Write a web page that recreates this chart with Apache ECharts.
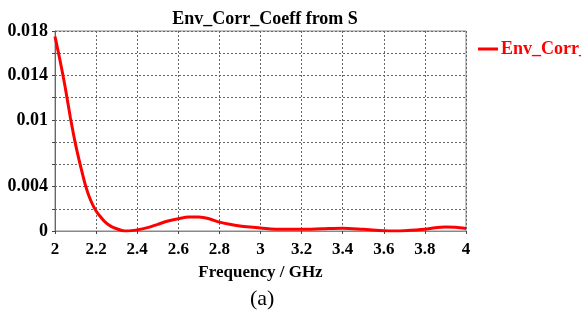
<!DOCTYPE html>
<html>
<head>
<meta charset="utf-8">
<script src="https://cdn.jsdelivr.net/npm/echarts@6/dist/echarts.min.js"></script>
<style>html,body{margin:0;padding:0;background:#fff}#c{width:581px;height:320px}</style>
</head>
<body>
<div id="c"></div>
<script>
const freq = [2.0, 2.025, 2.05, 2.075, 2.1, 2.125, 2.15, 2.175, 2.2, 2.225, 2.25, 2.275, 2.3, 2.325, 2.35, 2.4, 2.45, 2.5, 2.55, 2.6, 2.65, 2.7, 2.75, 2.8, 2.85, 2.9, 2.95, 3.0, 3.1, 3.2, 3.3, 3.4, 3.5, 3.6, 3.65, 3.7, 3.8, 3.85, 3.9, 3.95, 4.0];
const coeff = [0.0175, 0.0153, 0.0129, 0.0102, 0.0078, 0.0058, 0.0040, 0.0027, 0.0018, 0.0012, 0.0007, 0.0004, 0.0002, 0.00005, 0.0, 0.0001, 0.0003, 0.0006, 0.0009, 0.0011, 0.00125, 0.00125, 0.0011, 0.0008, 0.0006, 0.00045, 0.00035, 0.00027, 0.00015, 0.00015, 0.0002, 0.00025, 0.00015, 0.00003, 0.0, 0.00002, 0.00015, 0.0003, 0.00036, 0.00033, 0.00022];
const yTickLabels = ['0', '0.004', '0.01', '0.014', '0.018'];
const xTickLabels = ['2', '2.2', '2.4', '2.6', '2.8', '3', '3.2', '3.4', '3.6', '3.8', '4'];
const seriesName = 'Env_Corr_Coeff';
const titleText = 'Env_Corr_Coeff from S';
const xName = 'Frequency / GHz';
const caption = '(a)';

const chart = echarts.init(document.getElementById('c'), null, {renderer: 'canvas'});
const serif = '"Liberation Serif", "Times New Roman", serif';
const gridLine = {show: true, lineStyle: {color: '#666', type: [2, 2], width: 1}};
chart.setOption({
  animation: false,
  backgroundColor: '#fff',
  title: {text: titleText, left: 260, top: 5, textAlign: 'center',
    textStyle: {fontFamily: serif, fontWeight: 'bold', fontSize: 18, color: '#000'}},
  legend: {left: 473, top: 35, itemWidth: 20, itemHeight: 3, itemGap: 0,
    data: [{name: seriesName, icon: 'rect'}],
    textStyle: {fontFamily: serif, fontWeight: 'bold', fontSize: 18, color: '#ff0000', padding: [0, 0, 0, -2]}},
  grid: {left: 55, right: 115, top: 31, bottom: 89, show: true, borderColor: '#888', borderWidth: 1},
  xAxis: {type: 'value', min: 2, max: 4, interval: 0.2,
    name: xName, nameLocation: 'middle', nameGap: 33,
    nameTextStyle: {fontFamily: serif, fontWeight: 'bold', fontSize: 17, color: '#000'},
    axisLine: {lineStyle: {color: '#888'}},
    axisTick: {show: true, length: 3, lineStyle: {color: '#444'}},
    axisLabel: {fontFamily: serif, fontWeight: 'bold', fontSize: 17, color: '#000', margin: 10,
      formatter: (v) => { const s = xTickLabels.find(t => Math.abs(parseFloat(t) - v) < 1e-6); return s || ''; }},
    splitLine: gridLine},
  yAxis: {type: 'value', min: 0, max: 0.018, interval: 0.002,
    axisLine: {show: true, lineStyle: {color: '#666'}},
    axisTick: {show: true, length: 3, lineStyle: {color: '#444'}},
    axisLabel: {fontFamily: serif, fontWeight: 'bold', fontSize: 18, color: '#000', margin: 7,
      formatter: (v) => { const s = yTickLabels.find(t => Math.abs(parseFloat(t) - v) < 1e-9); return s || ''; }},
    splitLine: gridLine},
  graphic: [{type: 'text', left: 250, top: 288,
    style: {text: caption, fontFamily: serif, fontSize: 22, fill: '#000'}}],
  series: [{name: seriesName, type: 'line', smooth: 0.3, symbol: 'none',
    lineStyle: {color: '#ff0000', width: 3}, itemStyle: {color: '#ff0000'},
    data: freq.map((f, i) => [f, coeff[i]])}]
});
</script>
</body>
</html>
